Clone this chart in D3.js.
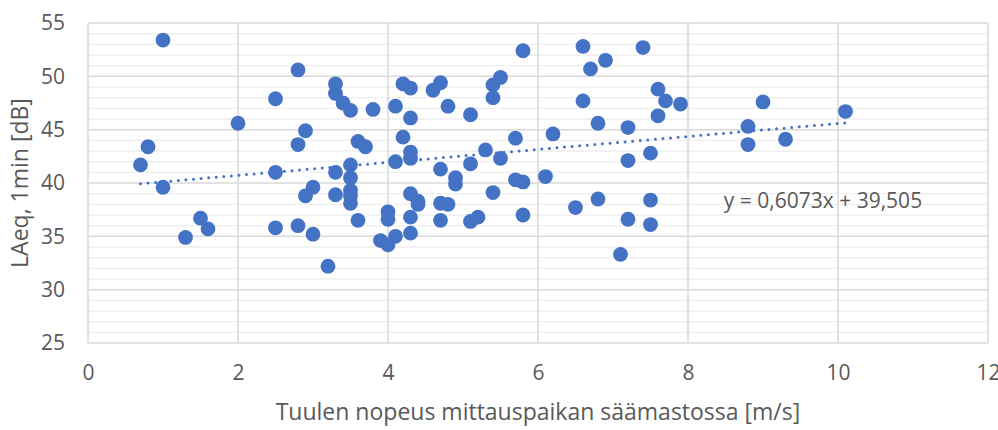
<!DOCTYPE html>
<html>
<head>
<meta charset="utf-8">
<script src="https://cdn.jsdelivr.net/npm/d3@7/dist/d3.min.js"></script>
<style>
  html, body { margin: 0; padding: 0; background: #fff; }
  svg { display: block; font-family: "Open Sans", "DejaVu Sans", sans-serif; }
</style>
</head>
<body>
<svg id="chart" width="998" height="430"></svg>
<script>
// Wind speed at the weather mast [m/s]
const windSpeed = [
  0.7, 0.8, 1.0, 1.0, 1.3, 1.5, 1.6, 2.0, 2.5, 2.5,
  2.5, 2.8, 2.8, 2.8, 2.9, 2.9, 3.0, 3.0, 3.2, 3.3,
  3.3, 3.3, 3.3, 3.4, 3.5, 3.5, 3.5, 3.5, 3.5, 3.5,
  3.6, 3.6, 3.7, 3.8, 3.9, 4.0, 4.0, 4.0, 4.1, 4.1,
  4.1, 4.2, 4.2, 4.3, 4.3, 4.3, 4.3, 4.3, 4.3, 4.3,
  4.4, 4.4, 4.6, 4.7, 4.7, 4.7, 4.7, 4.8, 4.8, 4.9,
  4.9, 5.1, 5.1, 5.1, 5.2, 5.3, 5.4, 5.4, 5.4, 5.5,
  5.5, 5.7, 5.7, 5.8, 5.8, 5.8, 6.1, 6.2, 6.5, 6.6,
  6.6, 6.7, 6.8, 6.8, 6.9, 7.1, 7.2, 7.2, 7.2, 7.4,
  7.5, 7.5, 7.5, 7.6, 7.6, 7.7, 7.9, 8.8, 8.8, 9.0,
  9.3, 10.1
];
// LAeq, 1 min level [dB]
const laeq = [
  41.7, 43.4, 53.4, 39.6, 34.9, 36.7, 35.7, 45.6, 47.9, 41.0,
  35.8, 50.6, 43.6, 36.0, 44.9, 38.8, 39.6, 35.2, 32.2, 49.3,
  48.4, 41.0, 38.9, 47.5, 46.8, 41.7, 40.5, 39.3, 38.8, 38.1,
  43.9, 36.5, 43.4, 46.9, 34.6, 37.3, 36.6, 34.2, 47.2, 42.0,
  35.0, 49.3, 44.3, 48.9, 46.1, 42.9, 42.3, 39.0, 36.8, 35.3,
  38.3, 38.0, 48.7, 49.4, 41.3, 38.1, 36.5, 47.2, 38.0, 40.5,
  39.9, 46.4, 41.8, 36.4, 36.8, 43.1, 49.2, 48.0, 39.1, 49.9,
  42.3, 44.2, 40.3, 52.4, 40.1, 37.0, 40.6, 44.6, 37.7, 52.8,
  47.7, 50.7, 45.6, 38.5, 51.5, 33.3, 45.2, 42.1, 36.6, 52.7,
  42.8, 38.4, 36.1, 48.8, 46.3, 47.7, 47.4, 45.3, 43.6, 47.6,
  44.1, 46.7
];

// Linear trend line coefficients (as printed in the equation label)
const trendSlope = 0.6073;
const trendIntercept = 39.505;
const trendLabel = "y = 0,6073x + 39,505";

const xTicks = [0, 2, 4, 6, 8, 10, 12];
const yTicks = [25, 30, 35, 40, 45, 50, 55];
const yMinorTicks = d3.range(25, 56, 1);

const xTitle = "Tuulen nopeus mittauspaikan säämastossa [m/s]";
const yTitle = "LAeq, 1min [dB]";

const svg = d3.select("#chart");
const margin = { left: 88, right: 10, top: 23, bottom: 87 };
const plotW = 900, plotH = 320;

const x = d3.scaleLinear().domain([0, 12]).range([margin.left, margin.left + plotW]);
const y = d3.scaleLinear().domain([25, 55]).range([margin.top + plotH, margin.top]);

const g = svg.append("g");

// minor horizontal gridlines
g.append("g").selectAll("line")
  .data(yMinorTicks.filter(v => v % 5 !== 0))
  .join("line")
  .attr("x1", x(0)).attr("x2", x(12))
  .attr("y1", d => y(d)).attr("y2", d => y(d))
  .attr("stroke", "#eeeeee").attr("stroke-width", 1.4);

// major horizontal gridlines
g.append("g").selectAll("line")
  .data(yTicks)
  .join("line")
  .attr("x1", x(0)).attr("x2", x(12))
  .attr("y1", d => y(d)).attr("y2", d => y(d))
  .attr("stroke", "#d9d9d9").attr("stroke-width", 1.5);

// vertical gridlines
g.append("g").selectAll("line")
  .data(xTicks)
  .join("line")
  .attr("x1", d => x(d)).attr("x2", d => x(d))
  .attr("y1", y(25)).attr("y2", y(55))
  .attr("stroke", "#d9d9d9").attr("stroke-width", 1.5);

const tickFont = s => s.selectAll("text")
  .attr("fill", "#595959")
  .style("font-size", "21px")
  .style("font-family", "'Open Sans', sans-serif");

// y axis tick labels
svg.append("g")
  .attr("transform", `translate(${margin.left - 23},0)`)
  .call(d3.axisLeft(y).tickValues(yTicks).tickSize(0).tickPadding(0))
  .call(s => s.select(".domain").remove())
  .call(tickFont);

// x axis tick labels
svg.append("g")
  .attr("transform", `translate(0,${margin.top + plotH + 22})`)
  .call(d3.axisBottom(x).tickValues(xTicks).tickSize(0).tickPadding(0))
  .call(s => s.select(".domain").remove())
  .call(tickFont);

// data points
const points = windSpeed.map((v, i) => ({ x: v, y: laeq[i] }));
svg.append("g").selectAll("circle")
  .data(points)
  .join("circle")
  .attr("cx", d => x(d.x))
  .attr("cy", d => y(d.y))
  .attr("r", 7.4)
  .attr("fill", "#4472C4");

// dotted linear trend line across the data range
const xMin = d3.min(windSpeed), xMax = d3.max(windSpeed);
svg.append("line")
  .attr("x1", x(xMin)).attr("y1", y(trendSlope * xMin + trendIntercept))
  .attr("x2", x(xMax)).attr("y2", y(trendSlope * xMax + trendIntercept))
  .attr("stroke", "#4472C4")
  .attr("stroke-width", 3)
  .attr("stroke-linecap", "round")
  .attr("stroke-dasharray", "0 7.6");

// trend equation
svg.append("text")
  .attr("x", 823).attr("y", 208)
  .attr("text-anchor", "middle")
  .attr("fill", "#595959")
  .style("font-size", "21px")
  .text(trendLabel);

// axis titles
svg.append("text")
  .attr("x", x(6)).attr("y", 420)
  .attr("text-anchor", "middle")
  .attr("fill", "#595959")
  .style("font-size", "23px")
  .text(xTitle);

svg.append("text")
  .attr("transform", `translate(28,${y(40)}) rotate(-90)`)
  .attr("text-anchor", "middle")
  .attr("fill", "#595959")
  .style("font-size", "23px")
  .text(yTitle);
</script>
</body>
</html>
